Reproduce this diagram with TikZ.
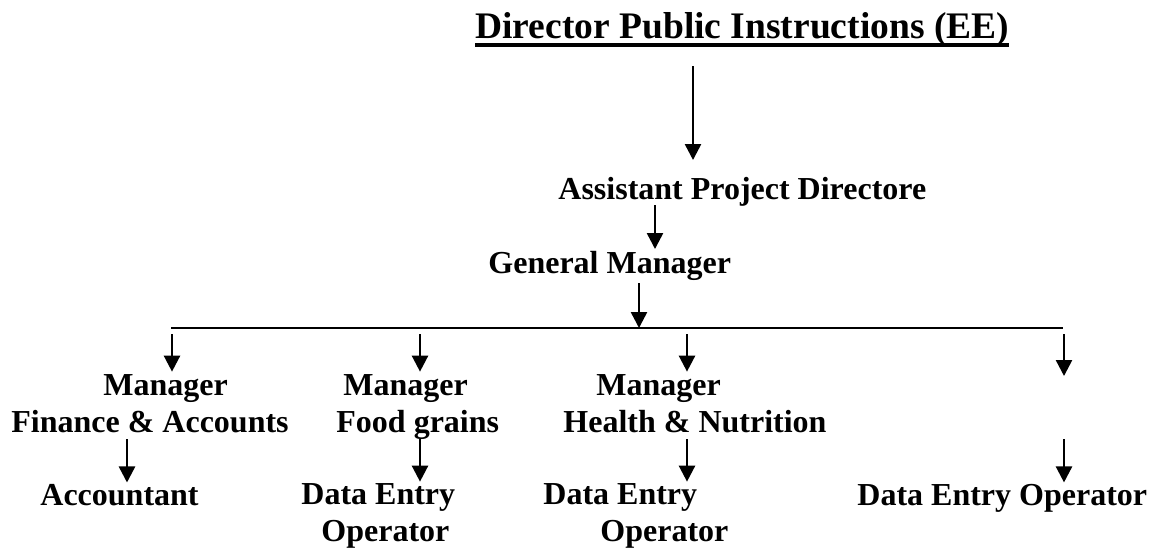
\documentclass[tikz,border=0pt]{standalone}
\usepackage{fontspec}
\setmainfont{Liberation Serif}
\usetikzlibrary{arrows.meta}
\tikzset{
    title/.style = {
        font=\bfseries\fontsize{18.75}{22}\selectfont,
        inner sep=0pt,
        anchor=base west
    },
    post/.style = {
        font=\bfseries\fontsize{16}{18.5}\selectfont,
        align=left,
        inner sep=0pt,
        anchor=base west
    },
    arr/.style = {
        draw,
        line width=1.25pt,
        -{Triangle[length=8pt, width=8pt]}
    },
    bus/.style = {
        draw,
        line width=1.4pt
    }
}

\begin{document}
\begin{tikzpicture}[x=0.5pt, y=-0.5pt]
\useasboundingbox (0,0) rectangle (1149,548);

% Top of the chart
\node [title] (dpi) at (475,38.5) {Director Public Instructions (EE)};
\draw [line width=1.75pt] ([yshift=-3.25pt]dpi.base west) -- ([yshift=-3.25pt]dpi.base east);
\node [post] (apd) at (558,199) {Assistant Project Directore};
\node [post] (gm) at (488,273) {General Manager};

% Arrow columns
\coordinate (k1) at (693,0);
\coordinate (k2) at (655,0);
\coordinate (k3) at (639,0);
\coordinate (b1) at (172,0);
\coordinate (b2) at (420,0);
\coordinate (b3) at (687,0);
\coordinate (s1) at (127,0);

\draw [arr, shorten <=13.75pt, shorten >=19.5pt] (dpi.base -| k1) -- (apd.base -| k1);
\draw [arr, shorten <=3pt, shorten >=12pt] (apd.base -| k2) -- (gm.base -| k2);

% Branch line
\coordinate (busL) at (171,328);
\coordinate (busR) at (1063,328);
\draw [bus] (busL) -- (busR);
\draw [arr, shorten <=5pt] (gm.base -| k3) -- (busL -| k3);

% Managers (base = last line)
\node [post] (mfa) at (11,432) {\hspace*{46pt}Manager\\Finance \& Accounts};
\node [post] (mfg) at (336,432) {\hspace*{3.5pt}Manager\\Food grains};
\node [post] (mhn) at (563,432) {\hspace*{16.5pt}Manager\\Health \& Nutrition};
\coordinate (vacant) at (1064,432);

% Staff
\node [post] (acc) at (40,505) {Accountant};
\node [post] (deofg) at (301,541) {Data Entry\\\hspace*{10pt}Operator};
\node [post] (deohn) at (543,541) {Data Entry\\\hspace*{28.5pt}Operator};
\node [post] (deo) at (857,505) {Data Entry Operator};

% Arrows from the branch line
\draw [arr, shorten <=3pt, shorten >=1pt] (busL -| b1) -- (mfa.north -| b1);
\draw [arr, shorten <=3pt, shorten >=1pt] (busL -| b2) -- (mfg.north -| b2);
\draw [arr, shorten <=3pt, shorten >=1pt] (busL -| b3) -- (mhn.north -| b3);
\draw [arr, shorten <=3pt, shorten >=28pt] (busR -| vacant) -- (vacant);

% Arrows to the staff
\draw [arr, shorten <=3.5pt, shorten >=0.5pt] (mfa.base -| s1) -- (acc.north -| s1);
\draw [arr, shorten <=3.5pt, shorten >=0.5pt] (mfg.base -| b2) -- (deofg.north -| b2);
\draw [arr, shorten <=3.5pt, shorten >=0.5pt] (mhn.base -| b3) -- (deohn.north -| b3);
\draw [arr, shorten <=3.5pt, shorten >=0.5pt] (vacant) -- (deo.north -| vacant);

\end{tikzpicture}
\end{document}
